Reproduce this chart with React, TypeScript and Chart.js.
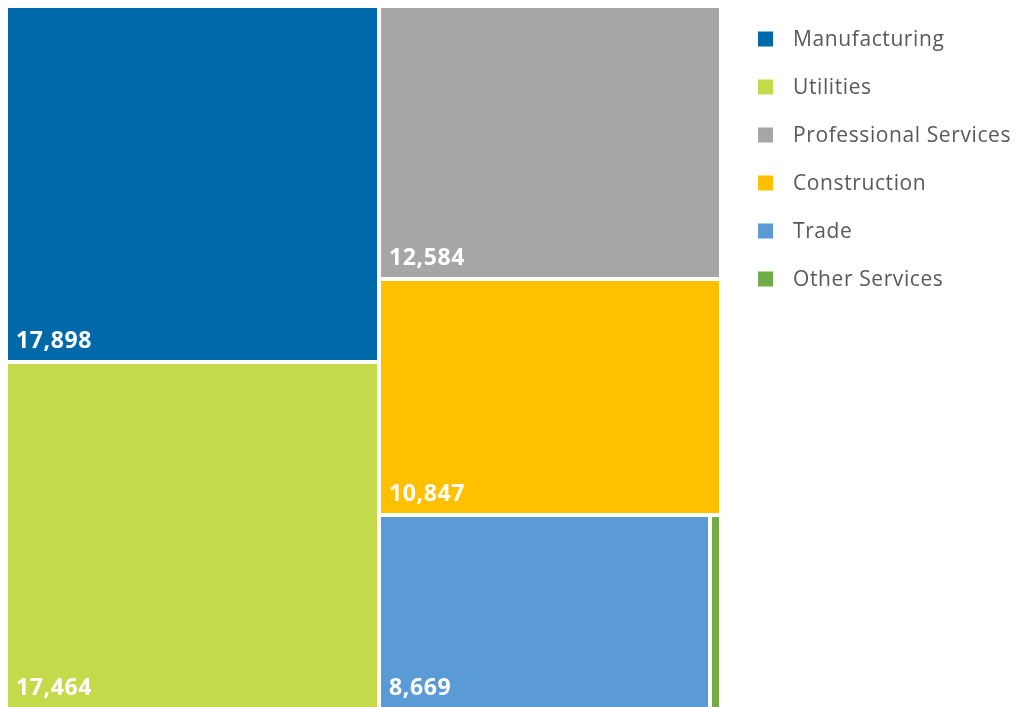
import React, { useEffect, useRef } from "react";
import { Chart, registerables } from "chart.js";

Chart.register(...registerables);

const categories = [
  "Manufacturing",
  "Utilities",
  "Professional Services",
  "Construction",
  "Trade",
  "Other Services",
];
const values = [17898, 17464, 12584, 10847, 8669, 280];
const valueLabels = ["17,898", "17,464", "12,584", "10,847", "8,669", "280"];
const colors = ["#0069AA", "#C5DA4A", "#A6A6A6", "#FFC000", "#5B9BD5", "#70AD47"];

type Rect = { x: number; y: number; w: number; h: number; i: number };
type Item = { a: number; i: number };

function squarify(vals: number[], x: number, y: number, w: number, h: number): Rect[] {
  const total = vals.reduce((s, v) => s + v, 0);
  const k = (w * h) / total;
  const items: Item[] = vals.map((v, i) => ({ a: v * k, i }));
  const out: Rect[] = [];
  const rect = { x, y, w, h };
  const worst = (row: Item[], side: number) => {
    const s = row.reduce((t, r) => t + r.a, 0);
    let m = 0;
    row.forEach((r) => {
      m = Math.max(m, (side * side * r.a) / (s * s), (s * s) / (side * side * r.a));
    });
    return m;
  };
  const layoutRow = (row: Item[]) => {
    const s = row.reduce((t, r) => t + r.a, 0);
    if (rect.w >= rect.h) {
      const cw = s / rect.h;
      let yy = rect.y;
      row.forEach((r) => {
        const hh = r.a / cw;
        out.push({ x: rect.x, y: yy, w: cw, h: hh, i: r.i });
        yy += hh;
      });
      rect.x += cw;
      rect.w -= cw;
    } else {
      const rh = s / rect.w;
      let xx = rect.x;
      row.forEach((r) => {
        const ww = r.a / rh;
        out.push({ x: xx, y: rect.y, w: ww, h: rh, i: r.i });
        xx += ww;
      });
      rect.y += rh;
      rect.h -= rh;
    }
  };
  let row: Item[] = [];
  let idx = 0;
  while (idx < items.length) {
    const side = Math.min(rect.w, rect.h);
    const it = items[idx];
    if (row.length === 0 || worst([...row, it], side) <= worst(row, side)) {
      row.push(it);
      idx++;
    } else {
      layoutRow(row);
      row = [];
    }
  }
  if (row.length) layoutRow(row);
  return out;
}

const GAP = 4;

const treemapPlugin = {
  id: "treemapCells",
  afterDatasetsDraw(chart: any) {
    const { ctx, chartArea, scales } = chart;
    const xs = scales.x;
    const ys = scales.y;
    const W = chartArea.width + GAP;
    const H = chartArea.height + GAP;
    const rects = squarify(values, 0, 0, W, H);
    ctx.save();
    rects.forEach((r) => {
      const x0 = Math.round(xs.getPixelForValue(r.x / chartArea.width));
      const x1 = Math.round(xs.getPixelForValue((r.x + r.w - GAP) / chartArea.width));
      const y0 = Math.round(ys.getPixelForValue(r.y / chartArea.height));
      const y1 = Math.round(ys.getPixelForValue((r.y + r.h - GAP) / chartArea.height));
      ctx.fillStyle = colors[r.i];
      ctx.fillRect(x0, y0, x1 - x0, y1 - y0);
      ctx.font = "bold 23px 'Open Sans'";
      (ctx as any).letterSpacing = "0.6px";
      const label = valueLabels[r.i];
      const tw = ctx.measureText(label).width;
      if (tw + 16 <= x1 - x0 && y1 - y0 > 30) {
        ctx.fillStyle = "#FFFFFF";
        ctx.textBaseline = "alphabetic";
        ctx.textAlign = "left";
        ctx.fillText(label, x0 + 8, y1 - 12);
      }
    });
    // legend
    const lx = chartArea.right + 39;
    ctx.font = "21px 'Open Sans'";
    (ctx as any).letterSpacing = "0.6px";
    ctx.textBaseline = "middle";
    ctx.textAlign = "left";
    categories.forEach((c, i) => {
      const cy = chartArea.top + 31 + i * 48;
      ctx.fillStyle = colors[i];
      ctx.fillRect(lx, cy - 7.5, 15, 15);
      ctx.fillStyle = "#595959";
      ctx.fillText(c, lx + 35, cy + 1.5);
    });
    ctx.restore();
  },
};

export default function App() {
  const ref = useRef<HTMLCanvasElement | null>(null);
  useEffect(() => {
    if (!ref.current) return;
    const chart = new Chart(ref.current, {
      type: "scatter",
      data: {
        labels: categories,
        datasets: [{ label: "Employment", data: [] }],
      },
      options: {
        animation: false,
        responsive: true,
        maintainAspectRatio: false,
        layout: { padding: { left: 0, top: 0, bottom: 0, right: 300 } },
        scales: {
          x: { type: "linear", min: 0, max: 1, display: false },
          y: { type: "linear", min: 0, max: 1, reverse: true, display: false },
        },
        plugins: {
          legend: { display: false },
          tooltip: { enabled: false },
        },
      },
      plugins: [treemapPlugin],
    });
    return () => chart.destroy();
  }, []);
  return (
    <div style={{ width: 1011, height: 699, position: "relative" }}>
      <canvas ref={ref} />
    </div>
  );
}
